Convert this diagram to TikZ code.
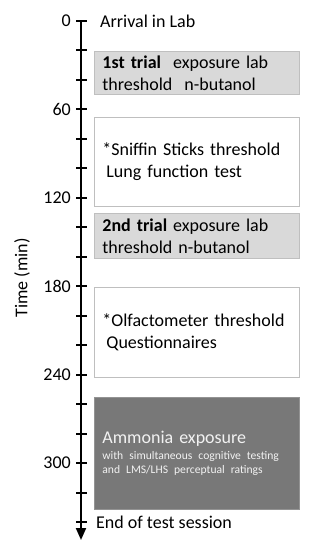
\documentclass[tikz,border=0pt]{standalone}
\usepackage{fontspec}
\setmainfont{Carlito}
\usetikzlibrary{arrows.meta,positioning}
\definecolor{lightbox}{HTML}{D9D9D9}
\definecolor{boxline}{HTML}{BFBFBF}
\definecolor{darkbox}{HTML}{787878}
\newcommand{\tpos}[1]{20.7+1.475*#1}

\begin{document}
\begin{tikzpicture}[x=1pt,y=-1pt,
  every node/.style={font=\fontsize{18}{22}\selectfont},
  stage/.style={draw=boxline, line width=0.8pt, anchor=north west,
    minimum width=205pt, text width=189pt, inner xsep=8pt, inner ysep=0pt, align=left},
  trial/.style={stage, fill=lightbox},
  task/.style={stage, fill=white},
  expo/.style={stage, fill=darkbox, draw=darkbox!80!white, text=white!95!black},
  tickmark/.style={line width=1.6pt},
  timeaxis/.style={line width=2pt, -{Triangle[width=10pt,length=12pt]}}]
  \useasboundingbox (0,0) rectangle (319,550);

  \coordinate (top)    at (81,{\tpos{0}});
  \coordinate (bottom) at (81,540);

  % boxes
  \node[trial, minimum height=43pt] (trial1) at (94,51)
    {\textbf{1st trial}\ \ exposure lab\\threshold\ \ n-butanol};
  \node[task, minimum height=89pt] (sniffin) at (94,117)
    {*Sniffin Sticks threshold\\\hspace*{4pt}Lung function test};
  \node[trial, minimum height=45pt] (trial2) at (94,213)
    {\textbf{2nd trial} exposure lab\\threshold n-butanol};
  \node[task, minimum height=90pt] (olfacto) at (94,287)
    {*Olfactometer threshold\\\hspace*{4pt}Questionnaires};
  \node[expo, minimum height=112pt] (ammonia) at (94,397)
    {Ammonia exposure\par
     {\fontsize{11.6}{14.5}\selectfont\vspace*{1.5pt}with simultaneous cognitive testing\\and LMS/LHS perceptual ratings\par}};

  % time axis
  \draw[timeaxis] (top) -- (bottom);
  \foreach \t in {0,20,...,340}
    \draw[tickmark] (76,{\tpos{\t}}) -- (87,{\tpos{\t}});
  \foreach \t in {0,60,...,300}
    \node[anchor=east, inner sep=0pt] (lab\t) at (71,{\tpos{\t}}) {\t};

  \node[anchor=base west, inner sep=0pt] (arrival) at (100,27.3) {Arrival in Lab};
  \node[anchor=base west, inner sep=0pt] (endsession) at (96,528.3) {End of test session};
  \node[rotate=90, inner sep=0pt] (timelabel) at (22,278) {Time (min)};
\end{tikzpicture}
\end{document}
